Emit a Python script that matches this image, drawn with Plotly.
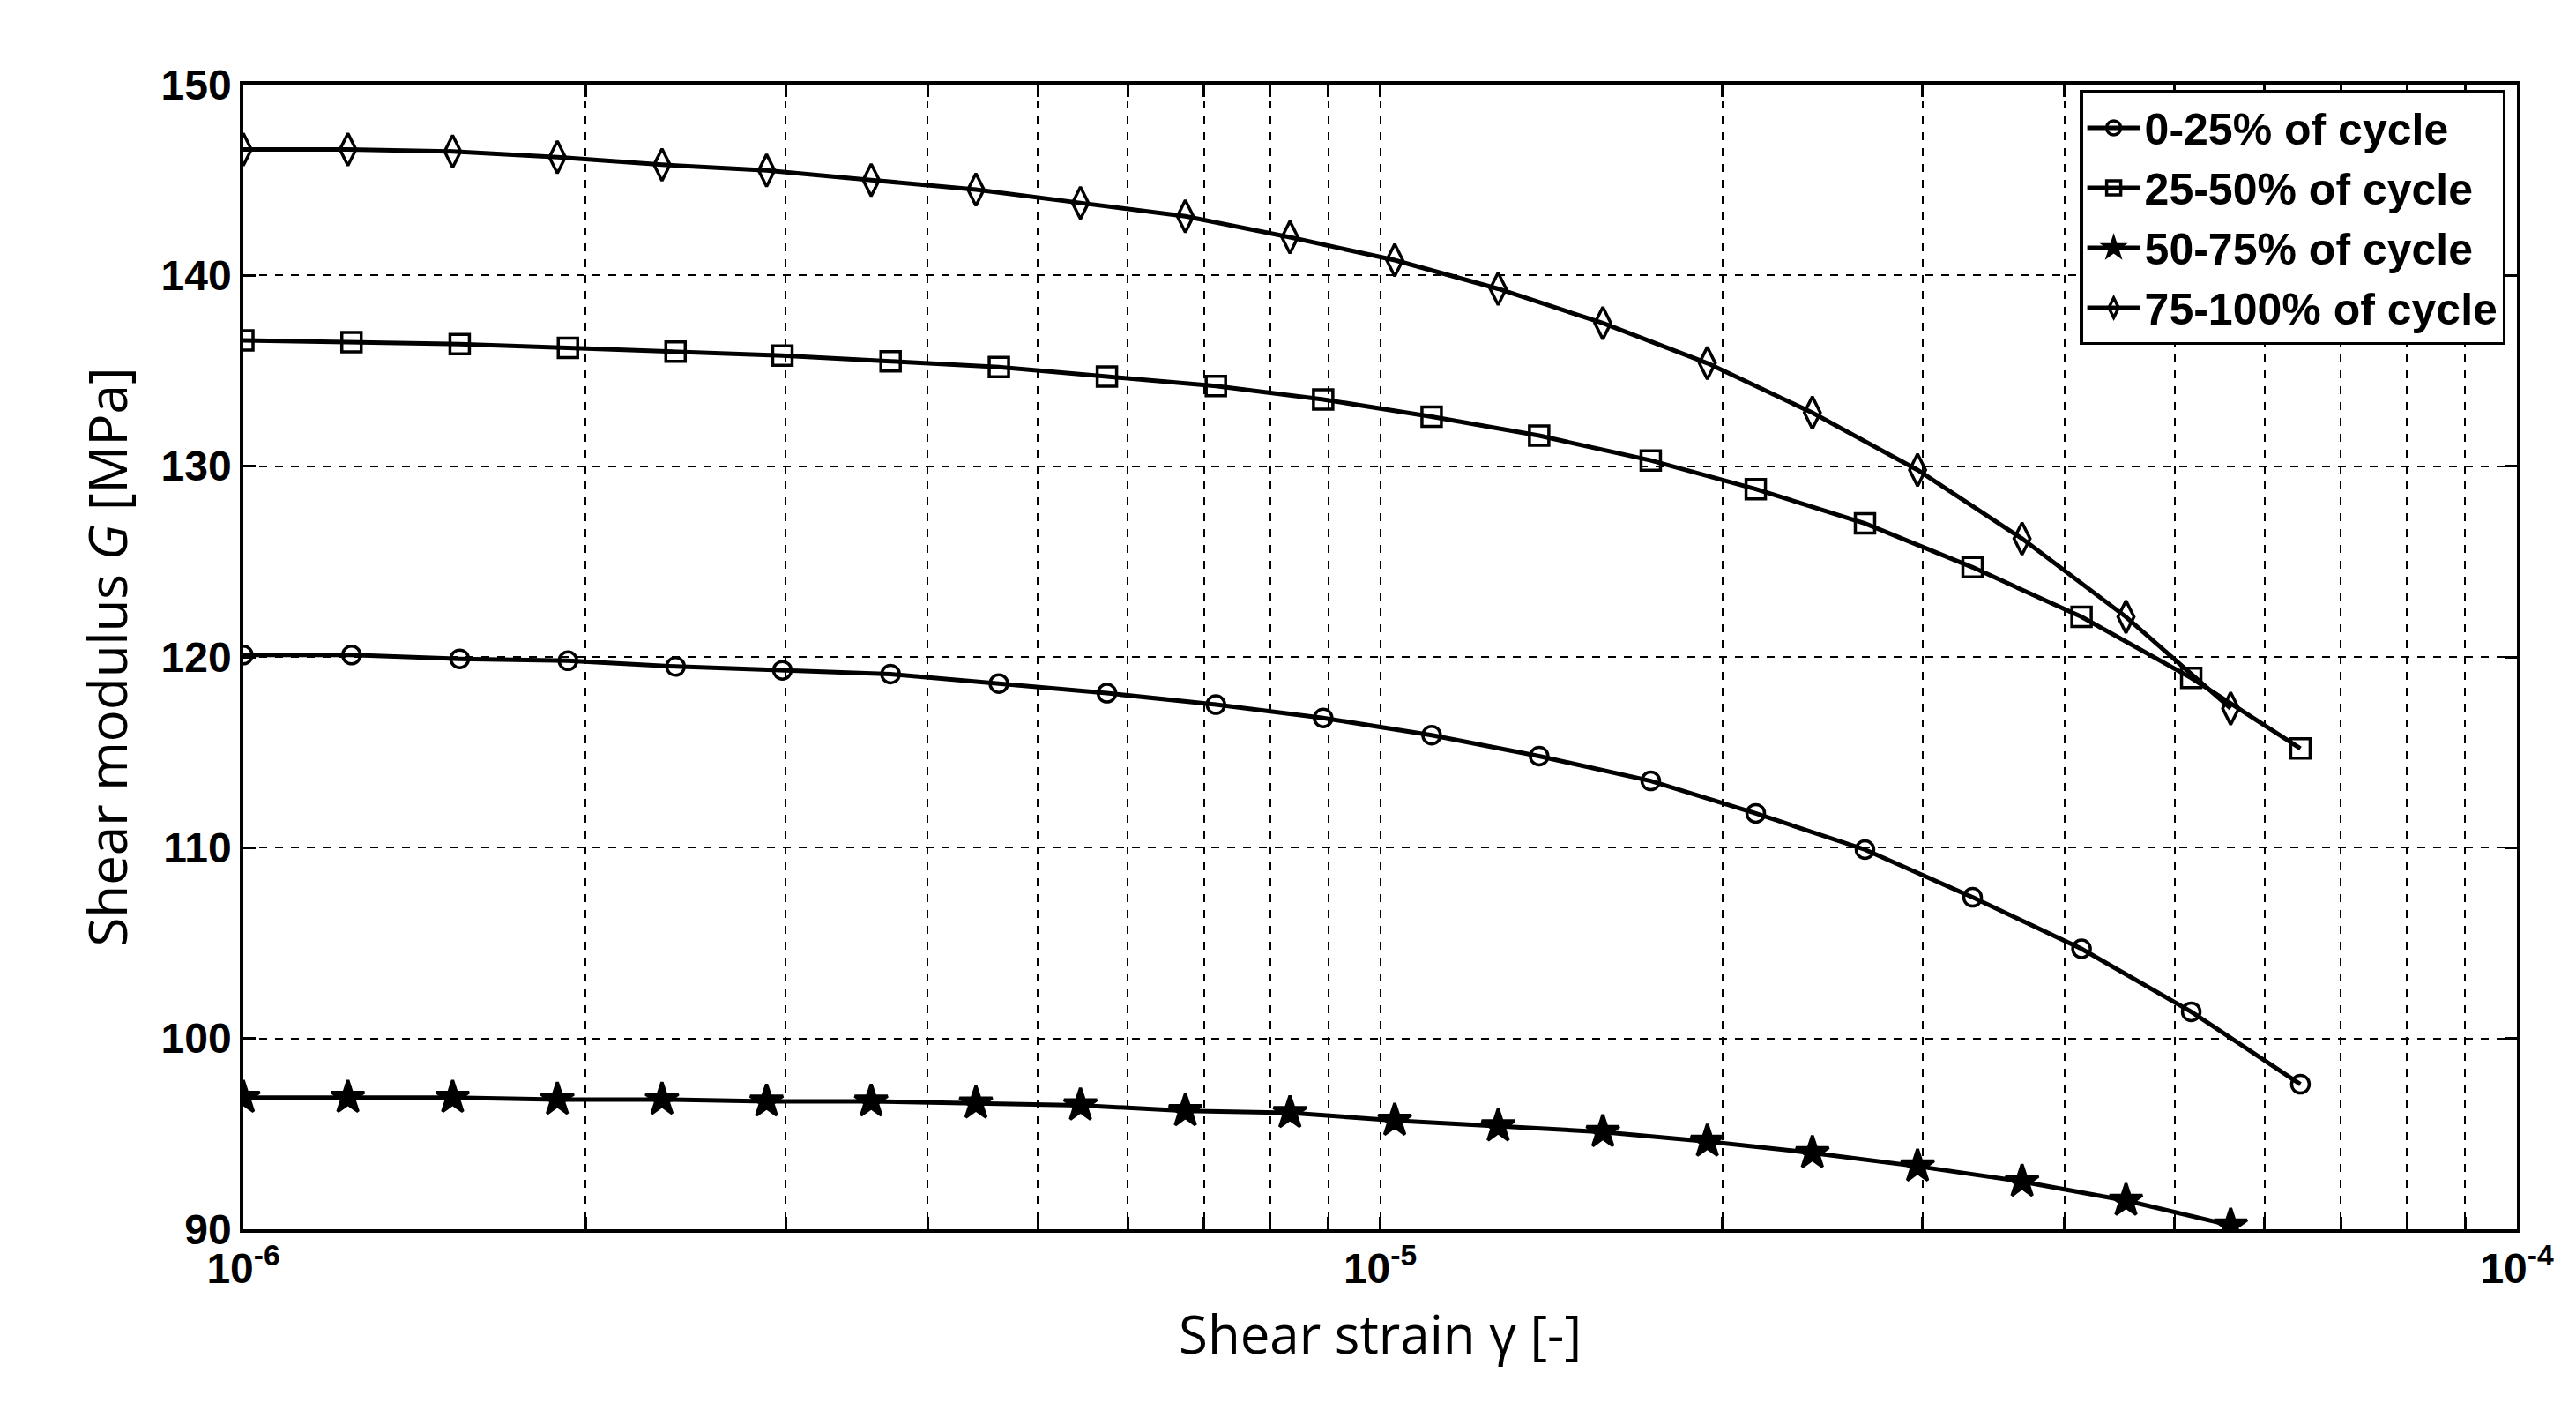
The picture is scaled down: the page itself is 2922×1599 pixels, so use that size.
import plotly.graph_objects as go

# strain values
x_a = [1.0e-6, 1.245e-6, 1.55e-6, 1.93e-6, 2.40e-6, 2.98e-6, 3.71e-6, 4.62e-6, 5.75e-6, 7.17e-6,
       8.91e-6, 1.11e-5, 1.38e-5, 1.73e-5, 2.14e-5, 2.67e-5, 3.32e-5, 4.14e-5, 5.17e-5, 6.45e-5]
x_b = [1.0e-6, 1.236e-6, 1.528e-6, 1.889e-6, 2.335e-6, 2.886e-6, 3.567e-6, 4.41e-6, 5.45e-6, 6.74e-6,
       8.33e-6, 1.03e-5, 1.27e-5, 1.57e-5, 1.94e-5, 2.40e-5, 2.97e-5, 3.67e-5, 4.53e-5, 5.60e-5]

g_0_25 = [120.1, 120.1, 119.9, 119.8, 119.5, 119.3, 119.1, 118.6, 118.1, 117.5,
          116.8, 115.9, 114.8, 113.5, 111.8, 109.9, 107.4, 104.7, 101.4, 97.6]
g_25_50 = [136.6, 136.5, 136.4, 136.2, 136.0, 135.8, 135.5, 135.2, 134.7, 134.2,
           133.5, 132.6, 131.6, 130.3, 128.8, 127.0, 124.7, 122.1, 118.9, 115.2]
g_50_75 = [96.9, 96.9, 96.9, 96.8, 96.8, 96.7, 96.7, 96.6, 96.5, 96.2,
           96.1, 95.7, 95.4, 95.1, 94.6, 94.0, 93.3, 92.5, 91.5, 90.2]
g_75_100 = [146.6, 146.6, 146.5, 146.2, 145.8, 145.5, 145.0, 144.5, 143.8, 143.1,
            142.0, 140.8, 139.3, 137.5, 135.4, 132.8, 129.8, 126.2, 122.1, 117.3]

series = [
    ("0-25% of cycle", x_a, g_0_25, "circle-open", 20),
    ("25-50% of cycle", x_a, g_25_50, "square-open", 22),
    ("50-75% of cycle", x_b, g_50_75, "star", 28),
    ("75-100% of cycle", x_b, g_75_100, "diamond-tall-open", 26),
]

fig = go.Figure()
for name, xs, ys, sym, sz in series:
    fig.add_trace(go.Scatter(x=xs, y=ys, name=name, mode="lines+markers",
                             line=dict(color="black", width=5),
                             marker=dict(symbol=sym, size=sz, color="black",
                                         line=dict(color="black", width=3.5))))

# log grid: decade labels plus 2..9 lines
tickvals, ticktext = [], []
for e in (-6, -5):
    for m in range(1, 10):
        tickvals.append(m * 10.0 ** e)
        ticktext.append("10<sup>%d</sup>" % e if m == 1 else "")
tickvals.append(1e-4)
ticktext.append("10<sup>-4</sup>")

axis_common = dict(showline=True, linecolor="black", linewidth=3.5, mirror="ticks",
                   ticks="inside", ticklen=14, tickwidth=2.5, tickcolor="black",
                   showgrid=True, gridcolor="black", gridwidth=2, griddash="dash",
                   zeroline=False,
                   tickfont=dict(family="Liberation Sans", size=48, color="black", weight="bold"))

fig.update_layout(
    width=2922, height=1599,
    paper_bgcolor="white", plot_bgcolor="white",
    margin=dict(l=268, r=75, t=88, b=213),
    font=dict(family="Open Sans", color="black"),
    xaxis=dict(type="log", range=[-6, -4], tickvals=tickvals, ticktext=ticktext,
               title=dict(text="Shear strain γ [-]", font=dict(size=60), standoff=30),
               **axis_common),
    yaxis=dict(range=[90, 150], dtick=10,
               title=dict(text="Shear modulus <i>G</i> [MPa]", font=dict(size=60), standoff=20),
               **axis_common),
    legend=dict(x=0.995, y=0.995, xanchor="right", yanchor="top",
                bgcolor="white", bordercolor="black", borderwidth=3.5,
                font=dict(family="Liberation Sans", size=50, color="black", weight="bold"),
                itemwidth=60, tracegroupgap=0),
)

fig.write_html("out.html")
